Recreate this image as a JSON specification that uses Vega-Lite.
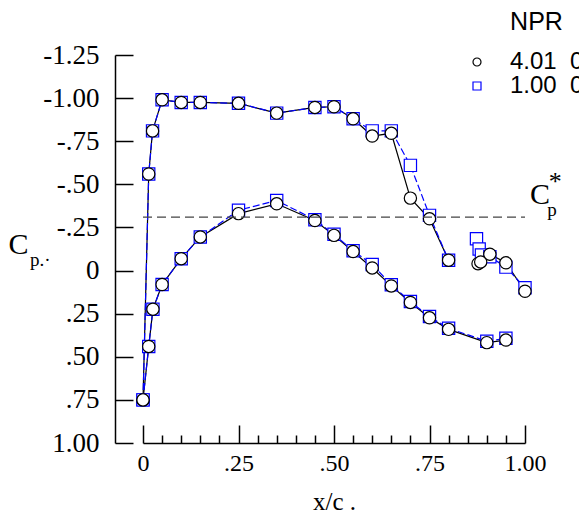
{
  "$schema": "https://vega.github.io/schema/vega-lite/v6.json",
  "width": 382,
  "height": 388,
  "autosize": "none",
  "padding": {"left": 143, "top": 55, "right": 54, "bottom": 80},
  "background": "white",
  "config": {"view": {"stroke": null}},
  "datasets": {
    "cp": [
      {"npr": "1.00", "surf": "upper", "x": 0.0, "cp": 0.75},
      {"npr": "1.00", "surf": "upper", "x": 0.015, "cp": -0.56},
      {"npr": "1.00", "surf": "upper", "x": 0.025, "cp": -0.81},
      {"npr": "1.00", "surf": "upper", "x": 0.05, "cp": -0.99},
      {"npr": "1.00", "surf": "upper", "x": 0.10, "cp": -0.975},
      {"npr": "1.00", "surf": "upper", "x": 0.15, "cp": -0.975},
      {"npr": "1.00", "surf": "upper", "x": 0.25, "cp": -0.97},
      {"npr": "1.00", "surf": "upper", "x": 0.35, "cp": -0.913},
      {"npr": "1.00", "surf": "upper", "x": 0.45, "cp": -0.946},
      {"npr": "1.00", "surf": "upper", "x": 0.50, "cp": -0.95},
      {"npr": "1.00", "surf": "upper", "x": 0.55, "cp": -0.88},
      {"npr": "1.00", "surf": "upper", "x": 0.60, "cp": -0.81},
      {"npr": "1.00", "surf": "upper", "x": 0.65, "cp": -0.81},
      {"npr": "1.00", "surf": "upper", "x": 0.70, "cp": -0.61},
      {"npr": "1.00", "surf": "upper", "x": 0.75, "cp": -0.32},
      {"npr": "1.00", "surf": "upper", "x": 0.80, "cp": -0.06},
      {"npr": "1.00", "surf": "te", "x": 0.873, "cp": -0.185},
      {"npr": "1.00", "surf": "te", "x": 0.880, "cp": -0.125},
      {"npr": "1.00", "surf": "te", "x": 0.886, "cp": -0.09},
      {"npr": "1.00", "surf": "te", "x": 0.908, "cp": -0.08},
      {"npr": "1.00", "surf": "te", "x": 0.95, "cp": -0.02},
      {"npr": "1.00", "surf": "te", "x": 1.0, "cp": 0.10},
      {"npr": "1.00", "surf": "lower", "x": 0.0, "cp": 0.75},
      {"npr": "1.00", "surf": "lower", "x": 0.015, "cp": 0.44},
      {"npr": "1.00", "surf": "lower", "x": 0.026, "cp": 0.224},
      {"npr": "1.00", "surf": "lower", "x": 0.05, "cp": 0.081},
      {"npr": "1.00", "surf": "lower", "x": 0.10, "cp": -0.069},
      {"npr": "1.00", "surf": "lower", "x": 0.15, "cp": -0.195},
      {"npr": "1.00", "surf": "lower", "x": 0.25, "cp": -0.35},
      {"npr": "1.00", "surf": "lower", "x": 0.35, "cp": -0.406},
      {"npr": "1.00", "surf": "lower", "x": 0.45, "cp": -0.295},
      {"npr": "1.00", "surf": "lower", "x": 0.50, "cp": -0.21},
      {"npr": "1.00", "surf": "lower", "x": 0.55, "cp": -0.115},
      {"npr": "1.00", "surf": "lower", "x": 0.60, "cp": -0.035},
      {"npr": "1.00", "surf": "lower", "x": 0.65, "cp": 0.082},
      {"npr": "1.00", "surf": "lower", "x": 0.70, "cp": 0.18},
      {"npr": "1.00", "surf": "lower", "x": 0.75, "cp": 0.267},
      {"npr": "1.00", "surf": "lower", "x": 0.80, "cp": 0.335},
      {"npr": "1.00", "surf": "lower", "x": 0.90, "cp": 0.41},
      {"npr": "1.00", "surf": "lower", "x": 0.95, "cp": 0.393},
      {"npr": "4.01", "surf": "upper", "x": 0.0, "cp": 0.75},
      {"npr": "4.01", "surf": "upper", "x": 0.015, "cp": -0.56},
      {"npr": "4.01", "surf": "upper", "x": 0.025, "cp": -0.81},
      {"npr": "4.01", "surf": "upper", "x": 0.05, "cp": -0.99},
      {"npr": "4.01", "surf": "upper", "x": 0.10, "cp": -0.975},
      {"npr": "4.01", "surf": "upper", "x": 0.15, "cp": -0.975},
      {"npr": "4.01", "surf": "upper", "x": 0.25, "cp": -0.97},
      {"npr": "4.01", "surf": "upper", "x": 0.35, "cp": -0.913},
      {"npr": "4.01", "surf": "upper", "x": 0.45, "cp": -0.946},
      {"npr": "4.01", "surf": "upper", "x": 0.50, "cp": -0.95},
      {"npr": "4.01", "surf": "upper", "x": 0.55, "cp": -0.88},
      {"npr": "4.01", "surf": "upper", "x": 0.60, "cp": -0.78},
      {"npr": "4.01", "surf": "upper", "x": 0.65, "cp": -0.796},
      {"npr": "4.01", "surf": "upper", "x": 0.70, "cp": -0.42},
      {"npr": "4.01", "surf": "upper", "x": 0.75, "cp": -0.30},
      {"npr": "4.01", "surf": "upper", "x": 0.80, "cp": -0.06},
      {"npr": "4.01", "surf": "te", "x": 0.877, "cp": -0.04},
      {"npr": "4.01", "surf": "te", "x": 0.884, "cp": -0.05},
      {"npr": "4.01", "surf": "te", "x": 0.908, "cp": -0.095},
      {"npr": "4.01", "surf": "te", "x": 0.95, "cp": -0.045},
      {"npr": "4.01", "surf": "te", "x": 1.0, "cp": 0.12},
      {"npr": "4.01", "surf": "lower", "x": 0.0, "cp": 0.75},
      {"npr": "4.01", "surf": "lower", "x": 0.015, "cp": 0.44},
      {"npr": "4.01", "surf": "lower", "x": 0.026, "cp": 0.224},
      {"npr": "4.01", "surf": "lower", "x": 0.05, "cp": 0.081},
      {"npr": "4.01", "surf": "lower", "x": 0.10, "cp": -0.069},
      {"npr": "4.01", "surf": "lower", "x": 0.15, "cp": -0.195},
      {"npr": "4.01", "surf": "lower", "x": 0.25, "cp": -0.33},
      {"npr": "4.01", "surf": "lower", "x": 0.35, "cp": -0.387},
      {"npr": "4.01", "surf": "lower", "x": 0.45, "cp": -0.29},
      {"npr": "4.01", "surf": "lower", "x": 0.50, "cp": -0.204},
      {"npr": "4.01", "surf": "lower", "x": 0.55, "cp": -0.11},
      {"npr": "4.01", "surf": "lower", "x": 0.60, "cp": -0.015},
      {"npr": "4.01", "surf": "lower", "x": 0.65, "cp": 0.089},
      {"npr": "4.01", "surf": "lower", "x": 0.70, "cp": 0.185},
      {"npr": "4.01", "surf": "lower", "x": 0.75, "cp": 0.274},
      {"npr": "4.01", "surf": "lower", "x": 0.80, "cp": 0.341},
      {"npr": "4.01", "surf": "lower", "x": 0.90, "cp": 0.418},
      {"npr": "4.01", "surf": "lower", "x": 0.95, "cp": 0.403}
    ]
  },
  "encoding": {
    "x": {
      "field": "x", "type": "quantitative",
      "scale": {"domain": [0, 1], "nice": false, "zero": false},
      "axis": {
        "orient": "bottom",
        "values": [0, 0.05, 0.1, 0.15, 0.2, 0.25, 0.3, 0.35, 0.4, 0.45, 0.5, 0.55, 0.6, 0.65, 0.7, 0.75, 0.8, 0.85, 0.9, 0.95, 1],
        "labelExpr": "indexof([0,0.25,0.5,0.75], datum.value) >= 0 ? (datum.value == 0 ? '0' : replace(format(datum.value, '.2f'), '0.', '.')) : (datum.value == 1 ? '1.00' : '')",
        "tickSize": {"condition": {"test": "indexof([0,0.25,0.5,0.75,1], datum.value) >= 0", "value": -18}, "value": -8},
        "tickColor": "black", "tickWidth": 1.5,
        "domainColor": "black", "domainWidth": 1.5,
        "labelFont": "Liberation Serif", "labelFontSize": 24, "labelColor": "black",
        "labelPadding": 26, "labelOverlap": false, "labelFlush": false,
        "grid": false,
        "title": "x/c .",
        "titleFont": "Liberation Serif", "titleFontSize": 25, "titleFontWeight": "normal", "titleColor": "black",
        "titlePadding": 4
      }
    },
    "y": {
      "field": "cp", "type": "quantitative",
      "scale": {"domain": [-1.25, 1.0], "nice": false, "zero": false, "reverse": true},
      "axis": {
        "orient": "left",
        "offset": 28,
        "values": [-1.25, -1, -0.75, -0.5, -0.25, 0, 0.25, 0.5, 0.75, 1],
        "labelExpr": "datum.value == 0 ? '0' : (datum.value < 0 ? '-' : '') + replace(format(abs(datum.value), '.2f'), '0.', '.')",
        "tickSize": -18,
        "tickColor": "black", "tickWidth": 1.5,
        "domainColor": "black", "domainWidth": 1.5,
        "labelFont": "Liberation Serif", "labelFontSize": 27, "labelColor": "black",
        "labelPadding": 34, "labelOverlap": false, "labelFlush": false,
        "grid": false,
        "title": null
      }
    }
  },
  "layer": [
    {
      "data": {"name": "cp"},
      "transform": [{"filter": "datum.npr == '4.01'"}],
      "mark": {"type": "line", "color": "black", "strokeWidth": 1.2},
      "encoding": {"detail": {"field": "surf"}}
    },
    {
      "data": {"name": "cp"},
      "transform": [{"filter": "datum.npr == '1.00'"}],
      "mark": {"type": "line", "color": "#0000ff", "strokeWidth": 1.2, "strokeDash": [7, 3]},
      "encoding": {"detail": {"field": "surf"}}
    },
    {
      "data": {"name": "cp"},
      "mark": {"type": "point", "fill": "white", "fillOpacity": 1, "opacity": 1, "strokeWidth": 1.2, "size": 150},
      "encoding": {
        "shape": {
          "field": "npr", "type": "nominal",
          "scale": {"domain": ["4.01", "1.00"], "range": ["circle", "square"]},
          "legend": {
            "title": null,
            "orient": "none", "legendX": 322, "legendY": -5,
            "padding": 0,
            "labelFont": "Liberation Sans", "labelFontSize": 24, "labelColor": "black",
            "labelExpr": "datum.label + '\u00a0\u00a00.00'",
            "labelOffset": 21, "labelLimit": 0,
            "symbolSize": 64, "symbolStrokeWidth": 1.2, "symbolFillColor": "white",
            "rowPadding": 0
          }
        },
        "stroke": {
          "field": "npr", "type": "nominal",
          "scale": {"domain": ["4.01", "1.00"], "range": ["black", "#0000ff"]}
        }
      }
    },
    {
      "data": {"values": [{"xa": 0, "xb": 1, "cpstar": -0.31}]},
      "mark": {"type": "rule", "color": "#444444", "strokeWidth": 1.3, "strokeDash": [9, 5]},
      "encoding": {
        "x": {"field": "xa", "type": "quantitative"},
        "x2": {"field": "xb"},
        "y": {"field": "cpstar", "type": "quantitative"}
      }
    },
    {
      "data": {"values": [{"t": "NPR", "x": 0.961, "cp": -1.393}]},
      "mark": {"type": "text", "font": "Liberation Sans", "fontSize": 25, "align": "left", "baseline": "alphabetic", "color": "black"},
      "encoding": {"text": {"field": "t"}}
    },
    {
      "data": {"values": [{"t": "C", "x": -0.326, "cp": -0.098}, {"t": "C", "x": 1.039, "cp": -0.387}]},
      "mark": {"type": "text", "font": "Liberation Serif", "fontSize": 30, "align": "center", "baseline": "alphabetic", "color": "black"},
      "encoding": {"text": {"field": "t"}}
    },
    {
      "data": {"values": [{"t": "p.\u00b7", "x": -0.296, "cp": -0.029}, {"t": "p", "x": 1.058, "cp": -0.318}]},
      "mark": {"type": "text", "font": "Liberation Serif", "fontSize": 19, "align": "left", "baseline": "alphabetic", "color": "black"},
      "encoding": {"text": {"field": "t"}}
    },
    {
      "data": {"values": [{"t": "*", "x": 1.079, "cp": -0.468}]},
      "mark": {"type": "text", "font": "Liberation Serif", "fontSize": 26, "align": "center", "baseline": "alphabetic", "color": "black"},
      "encoding": {"text": {"field": "t"}}
    }
  ]
}
